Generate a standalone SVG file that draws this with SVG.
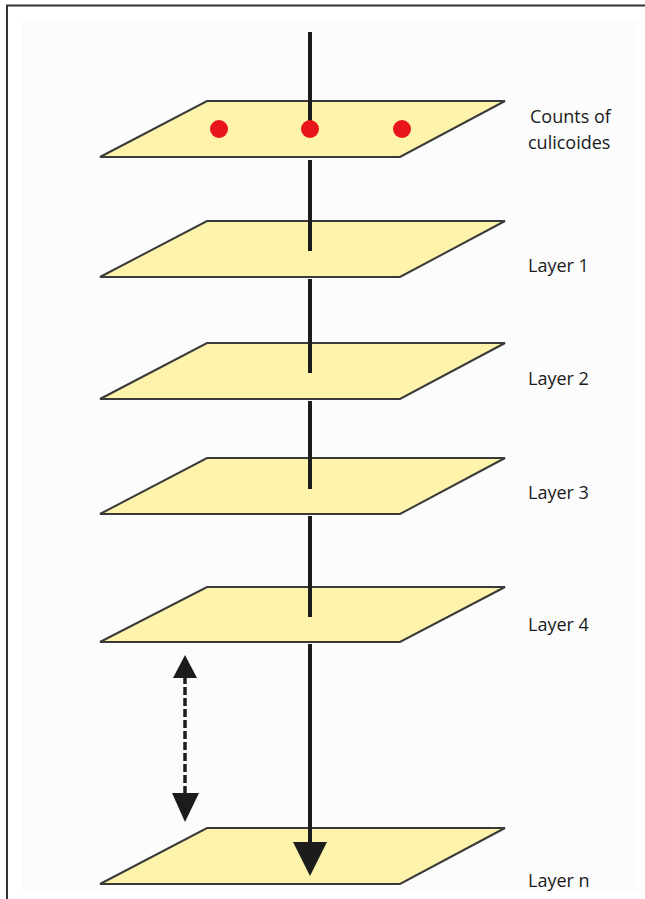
<svg xmlns="http://www.w3.org/2000/svg" width="645" height="899" viewBox="0 0 645 899">
<defs>
<style>
.plane{fill:#fdf3ab;stroke:#3a3a3a;stroke-width:2;stroke-linejoin:miter}
.axis{stroke:#1c1c1c;stroke-width:4;fill:none}
.dash{stroke:#1c1c1c;stroke-width:3.5;fill:none;stroke-dasharray:8 3}
.head{fill:#1c1c1c}
.dot{fill:#e8161c}
.lbl{font-family:"Open Sans","Liberation Sans",sans-serif;font-size:18px;fill:#1a1a1a}
</style>
</defs>
<rect x="0" y="0" width="645" height="899" fill="#ffffff"/>
<rect x="22" y="20" width="615" height="872" fill="#fcfcfc"/>
<path d="M7 899 V5.5 H645" fill="none" stroke="#333" stroke-width="2"/>

<g id="layer0">
<polygon class="plane" points="207,101 505,101 400,157 100,157"/>
<text class="lbl" x="530" y="123">Counts of</text>
<text class="lbl" x="528" y="149">culicoides</text>
</g>
<g id="layer1">
<polygon class="plane" points="207,221 505,221 400,277 100,277"/>
<text class="lbl" x="528" y="272">Layer 1</text>
</g>
<g id="layer2">
<polygon class="plane" points="207,343 505,343 400,399 100,399"/>
<text class="lbl" x="528" y="385">Layer 2</text>
</g>
<g id="layer3">
<polygon class="plane" points="207,458 505,458 400,514 100,514"/>
<text class="lbl" x="528" y="499">Layer 3</text>
</g>
<g id="layer4">
<polygon class="plane" points="207,587 505,587 400,642 100,642"/>
<text class="lbl" x="528" y="631">Layer 4</text>
</g>
<g id="layern">
<polygon class="plane" points="207,828 505,828 400,884 100,884"/>
<text class="lbl" x="528" y="887">Layer n</text>
</g>

<g id="connectors">
<line class="axis" x1="310" y1="32" x2="310" y2="125"/>
<line class="axis" x1="310" y1="160" x2="310" y2="251"/>
<line class="axis" x1="310" y1="279" x2="310" y2="373"/>
<line class="axis" x1="310" y1="401" x2="310" y2="489"/>
<line class="axis" x1="310" y1="516" x2="310" y2="617"/>
<line class="axis" x1="310" y1="644" x2="310" y2="845"/>
<polygon class="head" points="293,842 327,842 310,876"/>
<line class="dash" x1="185" y1="676" x2="185" y2="795"/>
<polygon class="head" points="185,655 197,678 173,678"/>
<polygon class="head" points="172,793 199,793 185,822"/>
</g>
<g id="dots">
<circle class="dot" cx="219" cy="129" r="9"/>
<circle class="dot" cx="310" cy="129" r="9"/>
<circle class="dot" cx="402" cy="129" r="9"/>
</g>
</svg>
